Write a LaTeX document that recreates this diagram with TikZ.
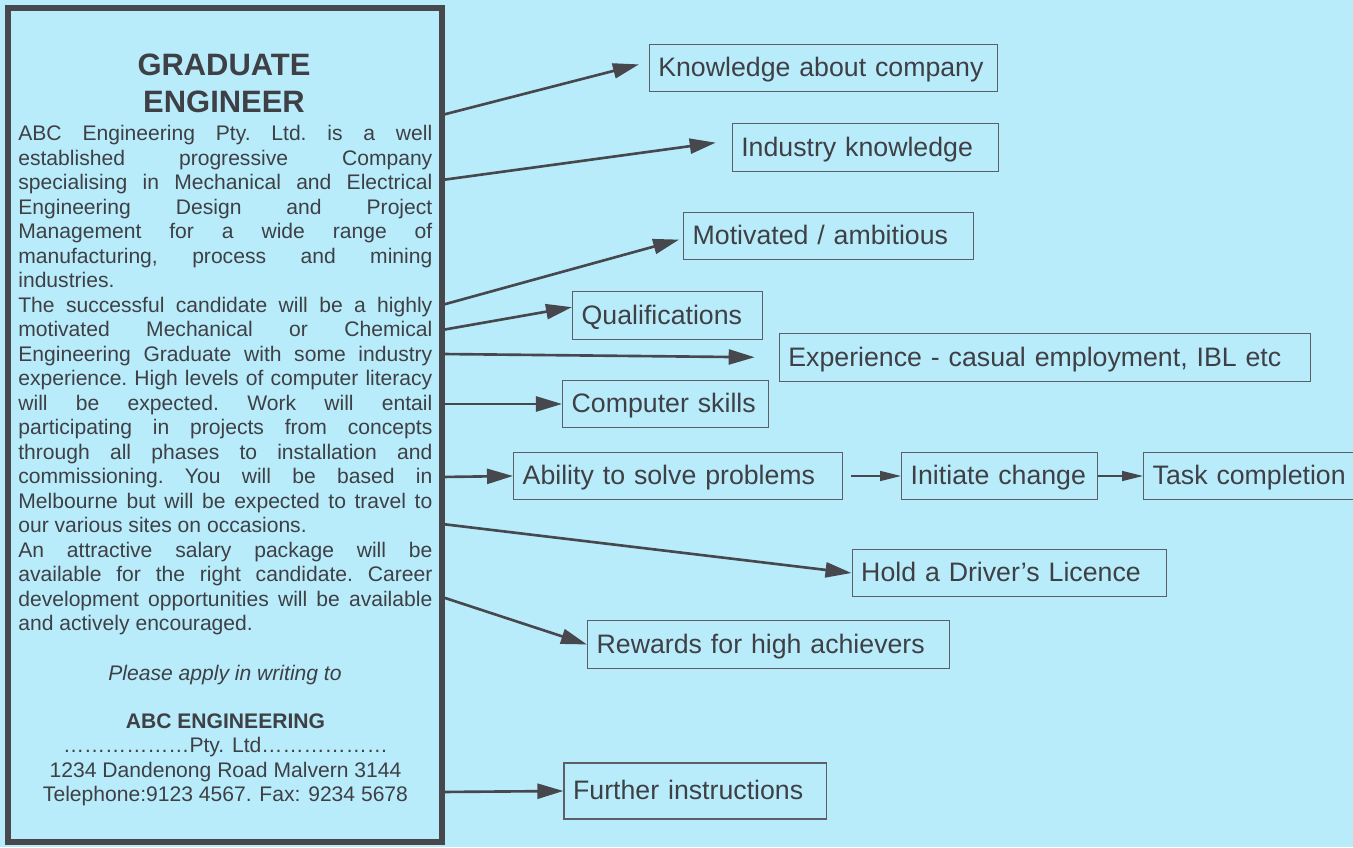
\documentclass[tikz,border=0pt]{standalone}
\usepackage{fontspec}
\setmainfont{Liberation Sans}
\usepackage{xcolor}
\usetikzlibrary{positioning,arrows.meta}

\definecolor{paper}{RGB}{185,236,250}
\definecolor{ink}{RGB}{62,64,70}
\definecolor{rule}{RGB}{70,72,78}
\definecolor{edge}{RGB}{92,96,102}

\tikzset{
  trait/.style={draw=edge, line width=0.8pt, anchor=west, inner xsep=0.18cm, inner ysep=0pt,
    minimum height=0.95cm, text width=#1, text height=10.5pt, text depth=0.8pt,
    align=left, font=\fontsize{15.2}{18}\selectfont},
  conn/.style={draw=rule, line width=1.5pt, -{Triangle[length=0.52cm,width=0.3cm]}},
  link/.style={draw=rule, line width=0.8pt, -{Triangle[length=0.42cm,width=0.2cm]}}
}

\begin{document}
\begin{tikzpicture}[scale=0.2]
\tikzstyle{every node}+=[inner sep=0pt, text=ink]
\useasboundingbox (0,0) rectangle (135.3,-84.7);
\fill [paper] (0,0) rectangle (135.3,-84.7);
% the advertisement
\node [draw=rule, line width=0.11cm, minimum width=8.68cm, minimum height=16.68cm] (advert) at (22.5,-42.5) {};
\node [anchor=north, align=center, font=\bfseries\fontsize{17.6}{21}\selectfont] (title) at (22.4,-5.4) {GRADUATE\\ENGINEER};
\node [anchor=north west, text width=8.28cm, align=justify, font=\fontsize{12}{13.94}\selectfont] (blurb) at (1.8,-12.5) {%
\frenchspacing\tolerance=10000\hyphenpenalty=10000\parindent=0pt
ABC Engineering Pty. Ltd. is a well\linebreak
established progressive Company\linebreak
specialising in Mechanical and Electrical\linebreak
Engineering Design and Project\linebreak
Management for a wide range of\linebreak
manufacturing, process and mining\linebreak
industries.\par
The successful candidate will be a highly\linebreak
motivated Mechanical or Chemical\linebreak
Engineering Graduate with some industry\linebreak
experience. High levels of computer literacy\linebreak
will be expected. Work will entail\linebreak
participating in projects from concepts\linebreak
through all phases to installation and\linebreak
commissioning. You will be based in\linebreak
Melbourne but will be expected to travel to\linebreak
our various sites on occasions.\par
An attractive salary package will be\linebreak
available for the right candidate. Career\linebreak
development opportunities will be available\linebreak
and actively encouraged.\par};
\node [anchor=base, font=\itshape\fontsize{12}{13.94}\selectfont] (apply) at (22.5,-68.0) {Please apply in writing to};
\node [anchor=north, align=center, font=\fontsize{12}{13.94}\selectfont] (contact) at (22.55,-71.3)
  {\textbf{ABC ENGINEERING}\\………………Pty. Ltd………………\\1234 Dandenong Road Malvern 3144\\Telephone:9123 4567. Fax: 9234 5678};
% what the advert asks for
\node [trait=6.6cm] (know) at (64.86,-6.8) {Knowledge about company};
\node [trait=4.96cm] (ind) at (73.16,-14.75) {Industry knowledge};
\node [trait=5.44cm] (motiv) at (68.3,-23.6) {Motivated / ambitious};
\node [trait=3.43cm] (qual) at (57.2,-31.55) {Qualifications};
\node [trait=10.26cm] (exp) at (77.87,-35.75) {Experience - casual employment, IBL etc};
\node [trait=3.76cm] (comp) at (56.2,-40.4) {Computer skills};
\node [trait=6.22cm] (solve) at (51.3,-47.6) {Ability to solve problems};
\node [trait=3.56cm] (init) at (90.1,-47.6) {Initiate change};
\node [trait=3.94cm] (task) at (114.3,-47.6) {Task completion};
\node [trait=5.93cm] (driver) at (85.15,-57.3) {Hold a Driver’s Licence};
\node [trait=6.88cm] (reward) at (58.7,-64.45) {Rewards for high achievers};
\node [trait=4.89cm, minimum height=1.12cm] (further) at (56.34,-79.1) {Further instructions};
% arrows leave the right edge of the advert
\coordinate (s1) at (44.2,-11.5);
\coordinate (s2) at (44.2,-18.0);
\coordinate (s3) at (44.2,-30.5);
\coordinate (s4) at (44.2,-33.0);
\coordinate (s5) at (44.2,-35.4);
\coordinate (s6) at (44.2,-40.4);
\coordinate (s7) at (44.2,-47.7);
\coordinate (s10) at (44.2,-52.4);
\coordinate (s11) at (44.2,-59.7);
\coordinate (s12) at (44.2,-79.2);
\draw [conn, shorten >=0.2cm] (s1) -- (know.178);
\draw [conn, shorten >=0.32cm] (s2) -- (ind.177);
\draw [conn, shorten >=0.08cm] (s3) -- (motiv.181);
\draw [conn] (s4) -- (qual.175);
\draw [conn, shorten >=0.48cm] (s5) -- (exp.west);
\draw [conn] (s6) -- (comp.west);
\draw [conn] (s7) -- (solve.west);
\draw [link, shorten <=0.16cm] (solve.east) -- (init.west);
\draw [link] (init.east) -- (task.west);
\draw [conn] (s10) -- (driver.west);
\draw [conn] (s11) -- (reward.west);
\draw [conn] (s12) -- (further.west);
\end{tikzpicture}
\end{document}
